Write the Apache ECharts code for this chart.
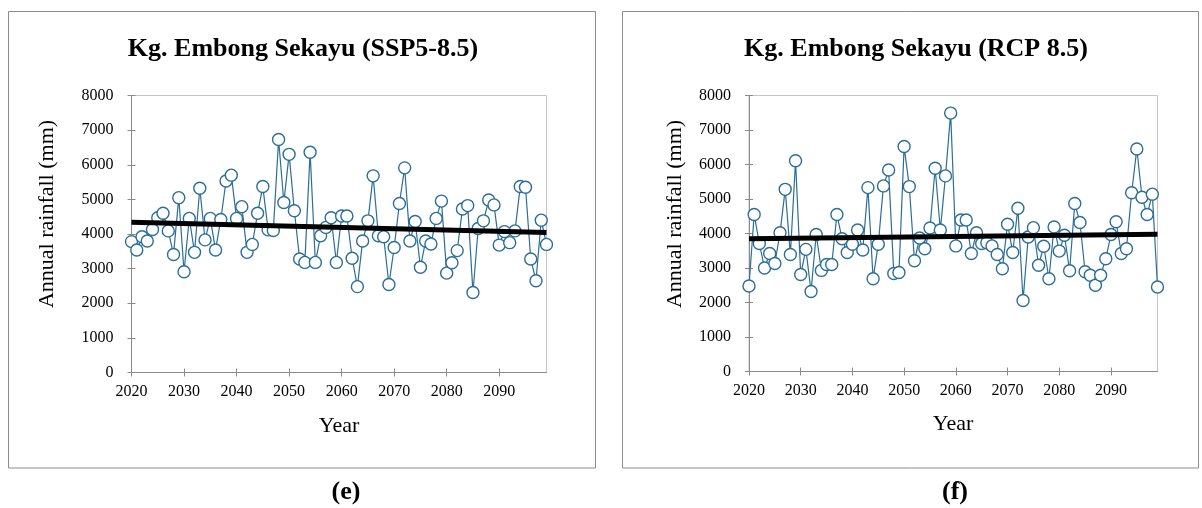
<!DOCTYPE html>
<html>
<head>
<meta charset="utf-8">
<script src="https://cdn.jsdelivr.net/npm/echarts@6/dist/echarts.min.js"></script>
<style>
html,body{margin:0;padding:0;background:#fff;}
#chart{width:1202px;height:508px;}
</style>
</head>
<body>
<div id="chart"></div>
<script>
// ---- data ----
const years = [
 2020,2021,2022,2023,2024,2025,2026,2027,2028,2029,
 2030,2031,2032,2033,2034,2035,2036,2037,2038,2039,
 2040,2041,2042,2043,2044,2045,2046,2047,2048,2049,
 2050,2051,2052,2053,2054,2055,2056,2057,2058,2059,
 2060,2061,2062,2063,2064,2065,2066,2067,2068,2069,
 2070,2071,2072,2073,2074,2075,2076,2077,2078,2079,
 2080,2081,2082,2083,2084,2085,2086,2087,2088,2089,
 2090,2091,2092,2093,2094,2095,2096,2097,2098,2099
];
const rainSSP585 = [
 3780,3540,3920,3800,4130,4470,4600,4090,3410,5050,
 2910,4450,3470,5320,3830,4450,3540,4420,5530,5700,
 4450,4790,3470,3700,4600,5370,4120,4100,6730,4910,
 6300,4670,3280,3180,6360,3180,3950,4190,4470,3180,
 4520,4520,3300,2480,3800,4380,5680,3950,3920,2540,
 3610,4880,5910,3800,4360,3040,3800,3710,4450,4950,
 2870,3170,3520,4720,4820,2310,4160,4380,4980,4840,
 3680,4070,3750,4090,5370,5350,3280,2650,4400,3700
];
const rainRCP85 = [
 2480,4550,3710,3000,3420,3130,4020,5280,3390,6110,
 2810,3540,2320,3970,2930,3100,3100,4550,3850,3450,
 3690,4100,3520,5330,2690,3690,5380,5840,2840,2870,
 6520,5360,3210,3870,3560,4160,5890,4100,5670,7490,
 3640,4390,4390,3420,4020,3710,3730,3640,3390,2980,
 4270,3450,4730,2060,3900,4170,3080,3630,2690,4190,
 3490,3950,2920,4870,4320,2890,2790,2500,2790,3270,
 3970,4340,3420,3560,5180,6450,5050,4550,5140,2450
];
const trendYears = [2020, 2099];
const trendSSP585 = [4340, 4040];
const trendRCP85 = [3850, 3980];
const xTickLabels = [2020,2030,2040,2050,2060,2070,2080,2090];
const yTickLabels = [0,1000,2000,3000,4000,5000,6000,7000,8000];
const titles = ['Kg. Embong Sekayu (SSP5-8.5)', 'Kg. Embong Sekayu (RCP 8.5)'];
const panelTags = ['(e)', '(f)'];
const xName = 'Year';
const yName = 'Annual rainfall (mm)';

// ---- styling ----
const FONT = 'Liberation Serif';
const BLUE = '#2b6e96';
const AXIS = '#8a8a8a';

const pairs = (xs, ys) => xs.map((x, i) => [x, ys[i]]);
const plain = v => String(v);

const grids = [
  {left: 131.5, top: 95.5, width: 415, height: 277},
  {left: 749, top: 95.5, width: 408.5, height: 276}
];

function xAxes(gi) {
  const base = {
    type: 'value', gridIndex: gi, min: 2020, max: 2099,
    splitLine: {show: false},
    axisLine: {show: true, lineStyle: {color: AXIS, width: 1}}
  };
  return [
    Object.assign({}, base, {
      axisTick: {show: true, inside: false, length: 4, lineStyle: {color: AXIS}, customValues: xTickLabels},
      axisLabel: {show: true, customValues: xTickLabels, margin: 11, formatter: plain,
        fontFamily: FONT, fontSize: 16, color: '#000'}
    }),
    Object.assign({}, base, {
      position: 'bottom',
      axisLine: {show: false},
      axisTick: {show: true, inside: true, length: 4, lineStyle: {color: AXIS}, customValues: xTickLabels},
      axisLabel: {show: false}
    })
  ];
}
function yAxes(gi) {
  const base = {
    type: 'value', gridIndex: gi, min: 0, max: 8000, interval: 1000,
    splitLine: {show: false},
    axisLine: {show: true, lineStyle: {color: AXIS, width: 1}}
  };
  return [
    Object.assign({}, base, {
      axisTick: {show: true, inside: false, length: 4, lineStyle: {color: AXIS}, customValues: yTickLabels},
      axisLabel: {show: true, margin: 18, formatter: plain, customValues: yTickLabels,
        fontFamily: FONT, fontSize: 16, color: '#000'}
    }),
    Object.assign({}, base, {
      position: 'left',
      axisLine: {show: false},
      axisTick: {show: true, inside: true, length: 4, lineStyle: {color: AXIS}, customValues: yTickLabels},
      axisLabel: {show: false}
    })
  ];
}

function dataSeries(xi, yi, vals) {
  return {
    type: 'line', xAxisIndex: xi, yAxisIndex: yi,
    data: pairs(years, vals),
    symbol: 'circle', symbolSize: 12, showAllSymbol: true,
    itemStyle: {color: '#fff', borderColor: BLUE, borderWidth: 1.4},
    lineStyle: {color: BLUE, width: 1.2},
    z: 3
  };
}
function trendSeries(xi, yi, vals) {
  return {
    type: 'line', xAxisIndex: xi, yAxisIndex: yi,
    data: pairs(trendYears, vals),
    symbol: 'none',
    lineStyle: {color: '#000', width: 5},
    z: 4
  };
}

function text(x, y, str, size, bold, rotation) {
  return {
    type: 'text', x: x, y: y, rotation: rotation || 0,
    style: {text: str, fontFamily: FONT, fontSize: size, fontWeight: bold ? 'bold' : 'normal',
      fill: '#000', align: 'center', verticalAlign: 'middle'}
  };
}

const option = {
  animation: false,
  backgroundColor: '#fff',
  grid: grids.map(g => Object.assign({show: true, borderColor: '#c4c4c4', borderWidth: 1,
    backgroundColor: 'rgba(0,0,0,0)', containLabel: false}, g)),
  xAxis: xAxes(0).concat(xAxes(1)),
  yAxis: yAxes(0).concat(yAxes(1)),
  series: [
    dataSeries(0, 0, rainSSP585),
    trendSeries(0, 0, trendSSP585),
    dataSeries(2, 2, rainRCP85),
    trendSeries(2, 2, trendRCP85)
  ],
  graphic: [
    {type: 'rect', shape: {x: 8.5, y: 11.5, width: 587, height: 456.5},
      style: {fill: 'none', stroke: '#8c8c8c', lineWidth: 1}, z: -1},
    {type: 'rect', shape: {x: 622.5, y: 11.5, width: 576, height: 456.5},
      style: {fill: 'none', stroke: '#8c8c8c', lineWidth: 1}, z: -1},
    text(303, 49, titles[0], 26, true),
    text(916, 49, titles[1], 26, true),
    text(339, 426, xName, 22, false),
    text(953, 424, xName, 22, false),
    text(47, 214, yName, 22, false, Math.PI / 2),
    text(675, 214, yName, 22, false, Math.PI / 2),
    text(346, 492, panelTags[0], 26, true),
    text(955, 492, panelTags[1], 26, true)
  ]
};

const chart = echarts.init(document.getElementById('chart'), null, {renderer: 'canvas'});
chart.setOption(option);
</script>
</body>
</html>
